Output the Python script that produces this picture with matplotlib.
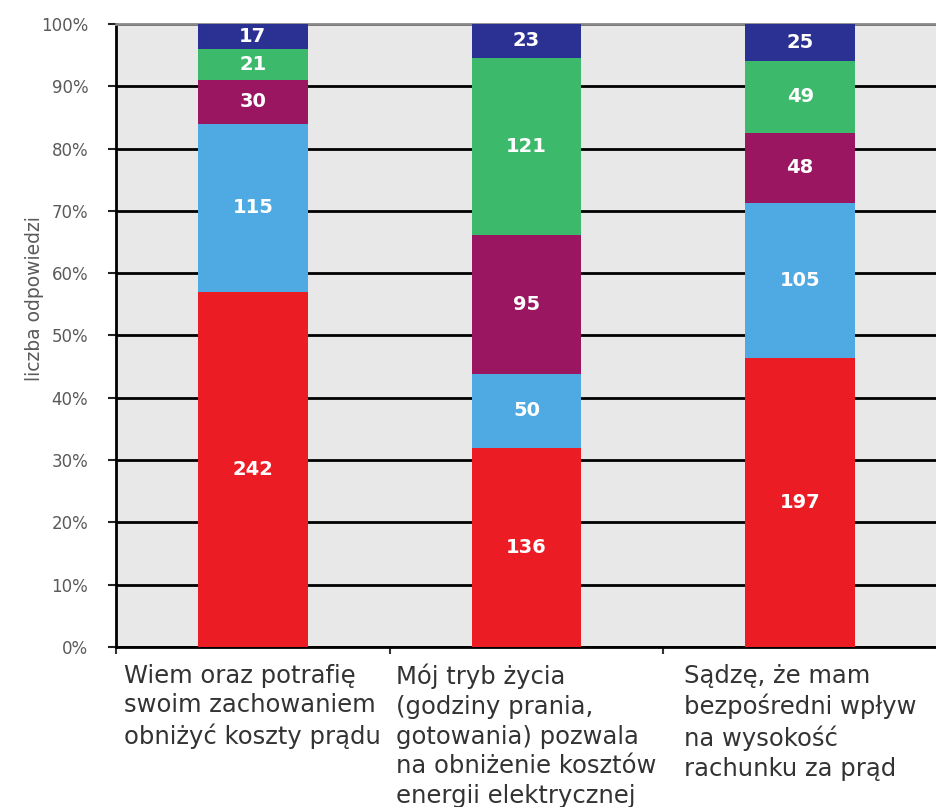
import matplotlib
matplotlib.use('Agg')
import matplotlib.pyplot as plt
import matplotlib.transforms as mtransforms
import numpy as np

categories = ['Wiem oraz potrafię\nswoim zachowaniem\nobniżyć koszty prądu',
              'Mój tryb życia\n(godziny prania,\ngotowania) pozwala\nna obniżenie kosztów\nenergii elektrycznej',
              'Sądzę, że mam\nbezpośredni wpływ\nna wysokość\nrachunku za prąd']
# segments from bottom to top
seg1 = [242, 136, 197]
seg2 = [115, 50, 105]
seg3 = [30, 95, 48]
seg4 = [21, 121, 49]
seg5 = [17, 23, 25]
colors = ['#ec1c24', '#4faae3', '#9b1660', '#3db96b', '#2b3192']

series = np.array([seg1, seg2, seg3, seg4, seg5], dtype=float)
totals = series.sum(axis=0)
pct = series / totals * 100

fig = plt.figure(figsize=(9.37, 8.07), dpi=100)
ax = fig.add_axes([0.1238, 0.1983, 0.8762, 0.772])
ax.set_facecolor('#e8e8e8')

x = np.arange(len(categories))
bottom = np.zeros(len(categories))
for i in range(len(series)):
    bars = ax.bar(x, pct[i], 0.4, bottom=bottom, color=colors[i], zorder=3)
    for j, b in enumerate(bars):
        ax.text(x[j], bottom[j] + pct[i][j] / 2, '%d' % series[i][j],
                ha='center', va='center', color='white', fontsize=14,
                fontweight='bold', zorder=4)
    bottom += pct[i]

ax.set_xlim(-0.5, 2.5)
ax.set_ylim(0, 100)
ax.set_yticks(np.arange(0, 101, 10))
ax.set_yticklabels(['%d%%' % v for v in range(0, 101, 10)], color='#5a5a5a', fontsize=12)
ax.yaxis.grid(True, color='black', linewidth=2, zorder=1)
ax.set_ylabel('liczba odpowiedzi', color='#5a5a5a', fontsize=13.5)
ax.yaxis.set_label_coords(-0.088, 0.56)

ax.set_xticks(x)
ax.set_xticklabels(categories, fontsize=17.5, color='#333333', ha='center',
                   multialignment='left', linespacing=1.3)
shift = mtransforms.ScaledTranslation(-6 / 100, 0, fig.dpi_scale_trans)
for lbl in ax.get_xticklabels():
    lbl.set_transform(lbl.get_transform() + shift)
ax.tick_params(axis='x', which='major', length=0, pad=12)
ax.set_xticks([-0.5, 0.5, 1.5], minor=True)
ax.tick_params(axis='x', which='minor', length=5, width=1.5, color='#333333')
ax.tick_params(axis='y', length=6, width=1.5, color='#222222', pad=14)

ax.spines['right'].set_visible(False)
ax.spines['top'].set_color('#888888')
ax.spines['top'].set_linewidth(2)
ax.spines['left'].set_linewidth(2)
ax.spines['bottom'].set_linewidth(2)

fig.savefig('out.png', dpi=100)
